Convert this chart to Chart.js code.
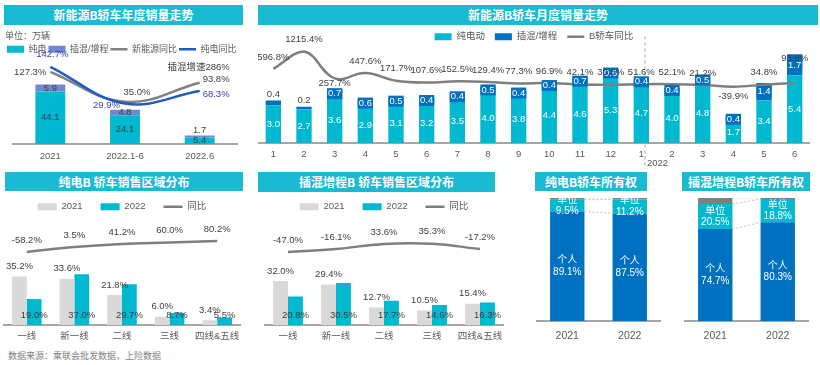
<!DOCTYPE html>
<html>
<head>
<meta charset="utf-8">
<script src="https://cdn.jsdelivr.net/npm/chart.js"></script>
<style>
  html, body { margin: 0; padding: 0; background: #fff; overflow: hidden; }
  body { width: 820px; height: 365px; position: relative; font-family: "Liberation Sans", "Noto Sans CJK SC", sans-serif; }
  .banner { position: absolute; height: 20px; line-height: 20px; background: #19bad2; color: #fff; font-weight: bold; font-size: 12px; text-align: center; font-family: "Noto Sans CJK SC", sans-serif; }
  canvas { position: absolute; }
  .source { position: absolute; left: 8px; top: 349px; font-size: 9px; color: #7f7f7f; font-family: "Noto Sans CJK SC", sans-serif; }
</style>
</head>
<body>
<div class="banner" style="left:4px;top:5px;width:239px">新能源B轿车年度销量走势</div>
<div class="banner" style="left:258px;top:5px;width:560px">新能源B轿车月度销量走势</div>
<div class="banner" style="left:5px;top:172px;width:238px;height:19px;line-height:19px">纯电B 轿车销售区域分布</div>
<div class="banner" style="left:258px;top:172px;width:237px">插混增程B 轿车销售区域分布</div>
<div class="banner" style="left:535px;top:172px;width:112px;height:19px;line-height:19px">纯电B轿车所有权</div>
<div class="banner" style="left:682px;top:172px;width:128px;height:19px;line-height:19px">插混增程B轿车所有权</div>

<canvas id="yearChart" width="237" height="139" style="left:5px;top:29px"></canvas>
<canvas id="monthChart" width="552" height="147" style="left:258px;top:22px"></canvas>
<canvas id="bevRegionChart" width="238" height="163" style="left:3px;top:184px"></canvas>
<canvas id="phevRegionChart" width="240" height="163" style="left:264px;top:184px"></canvas>
<canvas id="bevOwnChart" width="125" height="147" style="left:536px;top:198px"></canvas>
<canvas id="phevOwnChart" width="125" height="147" style="left:684px;top:198px"></canvas>

<div class="source">数据来源：乘联会批发数据，上险数据</div>

<script>
// ---- data ----
const yearCats = ['2021', '2022.1-6', '2022.6'];
const yearBev = [44.1, 24.1, 5.4];
const yearPhev = [5.9, 4.8, 1.7];
const yearNevYoy = [127.3, 35.0, 93.8];
const yearBevYoy = [142.7, 29.9, 68.3];
const yearNote = '插混增速286%';

const monthCats = ['1', '2', '3', '4', '5', '6', '7', '8', '9', '10', '11', '12', '1', '2', '3', '4', '5', '6'];
const monthBev = [3.0, 2.7, 3.6, 2.9, 3.1, 3.2, 3.5, 4.0, 3.8, 4.4, 4.6, 5.3, 4.7, 4.0, 4.8, 1.7, 3.4, 5.4];
const monthPhev = [0.4, 0.2, 0.7, 0.6, 0.5, 0.4, 0.4, 0.5, 0.4, 0.4, 0.7, 0.6, 0.4, 0.4, 0.5, 0.4, 1.4, 1.7];
const monthYoy = [596.8, 1215.4, 257.7, 447.6, 171.7, 107.6, 152.5, 129.4, 77.3, 96.9, 42.1, 30.6, 51.6, 52.1, 21.2, -39.9, 34.8, 93.8];
const monthBreakLabel = '2022';

const regionCats = ['一线', '新一线', '二线', '三线', '四线&五线'];
const bevRegion2021 = [35.2, 33.6, 21.8, 6.0, 3.4];
const bevRegion2022 = [19.0, 37.0, 29.7, 8.7, 5.5];
const bevRegionYoy = [-58.2, 3.5, 41.2, 60.0, 80.2];
const phevRegion2021 = [32.0, 29.4, 12.7, 10.5, 15.4];
const phevRegion2022 = [20.8, 30.5, 17.7, 14.6, 16.3];
const phevRegionYoy = [-47.0, -16.1, 33.6, 35.3, -17.2];

const ownCats = ['2021', '2022'];
const bevOwnPersonal = [89.1, 87.5];
const bevOwnCompany = [9.5, 11.2];
const bevOwnOther = [1.4, 1.3];
const phevOwnPersonal = [74.7, 80.3];
const phevOwnCompany = [20.5, 18.8];
const phevOwnOther = [4.8, 0.9];

// ---- styling ----
const CYAN = '#00b8d0';
const LAVENDER = '#7586d1';
const DARK_BLUE = '#0070c0';
const GRAY_BAR = '#d9d9d9';
const GRAY_LINE = '#7f7f7f';
const FONT = '"Liberation Sans", "Noto Sans CJK SC", sans-serif';

Chart.defaults.font.family = FONT;
Chart.defaults.color = '#595959';
Chart.defaults.animation = false;
Chart.defaults.plugins.tooltip.enabled = false;

const num = v => v.toFixed(1);
const pct = v => v.toFixed(1) + '%';

// draws value labels for datasets that carry an `lbl` block
const valueLabels = {
  id: 'valueLabels',
  afterDatasetsDraw(chart) {
    const ctx = chart.ctx;
    chart.data.datasets.forEach((ds, di) => {
      const o = ds.lbl;
      const meta = chart.getDatasetMeta(di);
      if (!o || meta.hidden) return;
      const size = o.size || 9.5;
      ctx.save();
      ctx.font = size + 'px ' + FONT;
      ctx.textBaseline = 'middle';
      meta.data.forEach((el, i) => {
        const v = ds.data[i];
        const p = el.getProps(['x', 'y', 'base'], true);
        let lines = o.fmt(v, ds);
        if (!Array.isArray(lines)) lines = [lines];
        let x = p.x, y, align = 'center', color = o.color || '#404040', bg = o.bg;
        const mode = typeof o.pos === 'function' ? o.pos(i, p) : o.pos;
        if (mode === 'center') {
          y = (p.y + p.base) / 2;
        } else if (mode === 'top') {
          y = p.y - (o.gap || 7);
          color = o.outColor || color;
          bg = null;
        } else if (mode === 'base') {
          y = p.base - (o.gap || 10);
        } else {
          const off = (o.offs && o.offs[i]) || o.off || [0, -12];
          x += off[0];
          y = p.y + off[1];
          align = off[2] || 'center';
        }
        ctx.textAlign = align;
        const lh = size * 1.15;
        const y0 = y - (lines.length - 1) * lh / 2;
        if (bg) {
          const w = Math.max(...lines.map(t => ctx.measureText(t).width)) + 2;
          ctx.fillStyle = bg;
          ctx.fillRect(x - w / 2, y0 - lh / 2, w, lh * lines.length);
        }
        ctx.fillStyle = color;
        lines.forEach((t, k) => ctx.fillText(t, x, y0 + k * lh));
      });
      ctx.restore();
    });
  }
};
Chart.register(valueLabels);

// dashed connectors between stacked 100% bars
const seriesLines = {
  id: 'seriesLines',
  afterDatasetsDraw(chart) {
    const ctx = chart.ctx;
    ctx.save();
    ctx.strokeStyle = '#bfbfbf';
    ctx.lineWidth = 1;
    ctx.setLineDash([2, 2]);
    chart.data.datasets.forEach((ds, di) => {
      const bars = chart.getDatasetMeta(di).data;
      for (let i = 0; i + 1 < bars.length; i++) {
        const a = bars[i].getProps(['x', 'y', 'width'], true);
        const b = bars[i + 1].getProps(['x', 'y', 'width'], true);
        ctx.beginPath();
        ctx.moveTo(a.x + a.width / 2, a.y);
        ctx.lineTo(b.x - b.width / 2, b.y);
        ctx.stroke();
      }
    });
    ctx.restore();
  }
};

// 2021 / 2022 divider on the monthly chart
const yearBreak = {
  id: 'yearBreak',
  beforeDatasetsDraw(chart, args, opts) {
    const xs = chart.scales.x, a = chart.chartArea, ctx = chart.ctx;
    const step = xs.getPixelForValue(opts.index + 1) - xs.getPixelForValue(opts.index);
    const x = xs.getPixelForValue(opts.index) + step * 0.12;
    ctx.save();
    ctx.strokeStyle = '#a6a6a6';
    ctx.lineWidth = 1;
    ctx.setLineDash([3, 3]);
    ctx.beginPath();
    ctx.moveTo(x, a.top - 15);
    ctx.lineTo(x, a.bottom + 26);
    ctx.stroke();
    ctx.fillStyle = '#595959';
    ctx.font = '9.5px ' + FONT;
    ctx.textAlign = 'left';
    ctx.textBaseline = 'middle';
    ctx.fillText(opts.text, x + 2, a.bottom + 20);
    ctx.restore();
  }
};

// free text note anchored to a line point
const pointNote = {
  id: 'pointNote',
  afterDatasetsDraw(chart, args, opts) {
    const pt = chart.getDatasetMeta(opts.dataset).data[opts.index];
    const ctx = chart.ctx;
    ctx.save();
    ctx.fillStyle = '#404040';
    ctx.font = '9.5px ' + FONT;
    ctx.textAlign = 'center';
    ctx.textBaseline = 'middle';
    ctx.fillText(opts.text, pt.x - 1, pt.y - 15);
    ctx.restore();
  }
};

function xAxis(h, pad, size) {
  return {
    stacked: true,
    grid: { display: true, drawOnChartArea: false, drawTicks: false },
    border: { display: true, color: '#a6a6a6', width: 2 },
    ticks: { color: '#595959', font: { size: size || 9.5 }, padding: pad, autoSkip: false, maxRotation: 0 },
    afterFit: s => { s.height = h; s.paddingLeft = 0; s.paddingRight = 0; }
  };
}

function spacer(w, pos) {
  return {
    position: pos, display: true,
    ticks: { display: false }, grid: { display: false }, border: { display: false },
    afterFit: s => { s.width = w; s.paddingTop = 0; s.paddingBottom = 0; }
  };
}

function legendOpts(align, pad, bw, size) {
  return {
    display: true, align,
    labels: {
      usePointStyle: true, pointStyleWidth: bw, boxHeight: 7, padding: pad,
      color: '#595959', font: { size: size || 9.5 },
      sort: (a, b) => a.datasetIndex - b.datasetIndex
    }
  };
}

const base = { responsive: false, devicePixelRatio: 1, events: [], layout: { padding: 0 } };

// ---- annual chart ----
new Chart(document.getElementById('yearChart'), {
  type: 'bar',
  data: {
    labels: yearCats,
    datasets: [
      { label: '纯电', data: yearBev, backgroundColor: CYAN, pointStyle: 'rect', order: 2,
        categoryPercentage: 0.4, barPercentage: 1,
        lbl: { pos: 'center', fmt: num } },
      { label: '插混/增程', data: yearPhev, backgroundColor: LAVENDER, pointStyle: 'rect', order: 2,
        categoryPercentage: 0.4, barPercentage: 1,
        lbl: { pos: (i, p) => (p.base - p.y < 4 ? 'top' : 'center'), gap: 5, fmt: num } },
      { type: 'line', label: '新能源同比', data: yearNevYoy, yAxisID: 'y1', borderColor: '#808080',
        borderWidth: 2.5, pointBorderWidth: 2.5, tension: 0.4, pointRadius: 0, pointStyle: 'line', clip: false, order: 1,
        lbl: { offs: [[-4, 1, 'right'], [12, -9, 'center'], [3, -3, 'left']], fmt: pct } },
      { type: 'line', label: '纯电同比', data: yearBevYoy, yAxisID: 'y1', borderColor: '#1e5bc6',
        borderWidth: 2.5, pointBorderWidth: 2.5, tension: 0.4, pointRadius: 0, pointStyle: 'line', clip: false, order: 0,
        lbl: { color: '#3a3fb0', offs: [[2, -12, 'center'], [-5, 2, 'right'], [3, 3, 'left']], fmt: pct } }
    ]
  },
  options: Object.assign({}, base, {
    scales: {
      x: xAxis(24, 7),
      y: Object.assign(spacer(8, 'left'), { stacked: true, min: 0, max: 67.5 }),
      y1: Object.assign(spacer(5, 'right'), { min: -95.1, max: 151.9 })
    },
    plugins: {
      title: { display: true, text: '单位：万辆', align: 'start', color: '#595959',
        font: { size: 9, weight: 'normal' }, padding: { top: 2, bottom: 1 } },
      legend: legendOpts('start', 2, 17, 9),
      pointNote: { dataset: 2, index: 2, text: yearNote }
    }
  }),
  plugins: [pointNote]
});

// ---- monthly chart ----
new Chart(document.getElementById('monthChart'), {
  type: 'bar',
  data: {
    labels: monthCats,
    datasets: [
      { label: '纯电动', data: monthBev, backgroundColor: CYAN, pointStyle: 'rect', order: 2,
        categoryPercentage: 0.5, barPercentage: 1,
        lbl: { pos: 'center', color: '#fff', fmt: num } },
      { label: '插混/增程', data: monthPhev, backgroundColor: DARK_BLUE, pointStyle: 'rect', order: 2,
        categoryPercentage: 0.5, barPercentage: 1,
        lbl: { pos: i => (i < 2 ? 'top' : 'center'), gap: 6, color: '#fff', outColor: '#404040', bg: DARK_BLUE, fmt: num } },
      { type: 'line', label: 'B轿车同比', data: monthYoy, yAxisID: 'y1', borderColor: GRAY_LINE,
        borderWidth: 2.5, pointBorderWidth: 2.5, tension: 0.4, pointRadius: 0, pointStyle: 'line', clip: false, order: 0,
        lbl: { off: [0, -12], offs: { 2: [0, 5], 15: [0, 10], 17: [0, -25] }, fmt: pct } }
    ]
  },
  options: Object.assign({}, base, {
    scales: {
      x: xAxis(26, 6),
      y: { display: false, stacked: true, min: 0, max: 7.32 },
      y1: { display: false, min: -2050, max: 1218 }
    },
    plugins: {
      legend: legendOpts('center', 10, 17),
      yearBreak: { index: 12, text: monthBreakLabel }
    }
  }),
  plugins: [yearBreak]
});

// ---- region charts ----
function regionChart(id, d2021, d2022, yoy, yMin, yMax) {
  return new Chart(document.getElementById(id), {
    type: 'bar',
    data: {
      labels: regionCats,
      datasets: [
        { label: '2021', data: d2021, backgroundColor: GRAY_BAR, pointStyle: 'rect', order: 2,
          categoryPercentage: 0.62, barPercentage: 1,
          lbl: { pos: 'top', gap: 10, fmt: pct } },
        { label: '2022', data: d2022, backgroundColor: CYAN, pointStyle: 'rect', order: 2,
          categoryPercentage: 0.62, barPercentage: 1,
          lbl: { pos: 'base', gap: 10, fmt: pct } },
        { type: 'line', label: '同比', data: yoy, yAxisID: 'y1', borderColor: GRAY_LINE,
          borderWidth: 2.5, pointBorderWidth: 2.5, tension: 0.4, pointRadius: 0, pointStyle: 'line', clip: false, order: 0,
          lbl: { off: [0, -12], fmt: pct } }
      ]
    },
    options: Object.assign({}, base, {
      scales: {
        x: Object.assign(xAxis(22, 6), { stacked: false }),
        y: { display: false, min: 0, max: 75.3 },
        y1: { display: false, min: yMin, max: yMax }
      },
      plugins: { legend: legendOpts('center', 18, 19) }
    })
  });
}
regionChart('bevRegionChart', bevRegion2021, bevRegion2022, bevRegionYoy, -976.4, 325.4);
regionChart('phevRegionChart', phevRegion2021, phevRegion2022, phevRegionYoy, -784.4, 261.1);

// ---- ownership charts ----
function ownChart(id, personal, company, other) {
  const two = (v, ds) => [ds.label, pct(v)];
  return new Chart(document.getElementById(id), {
    type: 'bar',
    data: {
      labels: ownCats,
      datasets: [
        { label: '个人', data: personal, backgroundColor: DARK_BLUE, categoryPercentage: 0.55, barPercentage: 1,
          lbl: { pos: 'center', color: '#fff', size: 10, fmt: two } },
        { label: '单位', data: company, backgroundColor: CYAN, categoryPercentage: 0.55, barPercentage: 1,
          lbl: { pos: 'center', color: '#fff', size: 10, fmt: two } },
        { label: '其他', data: other, backgroundColor: GRAY_LINE, categoryPercentage: 0.55, barPercentage: 1 }
      ]
    },
    options: Object.assign({}, base, {
      scales: {
        x: xAxis(24, 9, 10.5),
        y: { display: false, stacked: true, min: 0, max: 100 }
      },
      plugins: { legend: { display: false } }
    }),
    plugins: [seriesLines]
  });
}
ownChart('bevOwnChart', bevOwnPersonal, bevOwnCompany, bevOwnOther);
ownChart('phevOwnChart', phevOwnPersonal, phevOwnCompany, phevOwnOther);
</script>
</body>
</html>
